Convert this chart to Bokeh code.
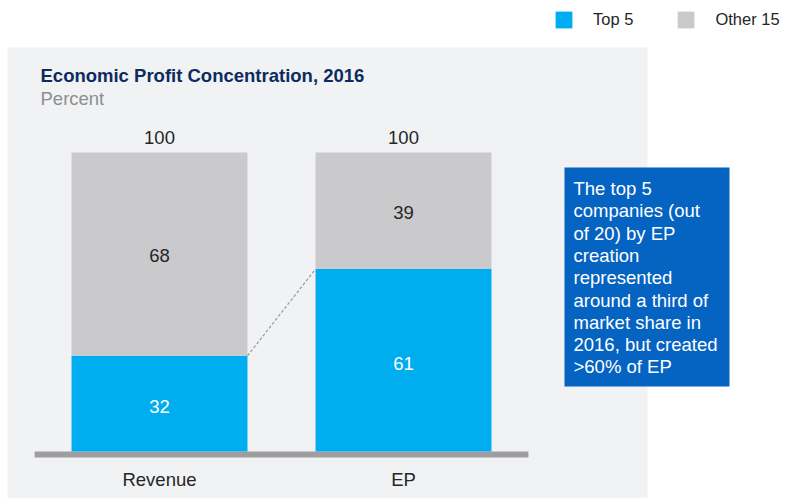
from bokeh.plotting import figure
from bokeh.models import Range1d, Label, BoxAnnotation, Legend, LegendItem, ColumnDataSource
from bokeh.embed import file_html
from bokeh.resources import INLINE
from bokeh.core.properties import value

# ---- data ----
categories = ["Revenue", "EP"]
top5 = [32, 61]
other15 = [68, 39]
series_names = ["Top 5", "Other 15"]
title_text = "Economic Profit Concentration, 2016"
subtitle_text = "Percent"
callout_lines = [
    "The top 5",
    "companies (out",
    "of 20) by EP",
    "creation",
    "represented",
    "around a third of",
    "market share in",
    "2016, but created",
    ">60% of EP",
]

# ---- styles ----
BLUE = "#00AEEF"
GREY = "#CACACC"
PANEL = "#F1F2F4"
CALLOUT = "#0563C1"
NAVY = "#0B2C5F"
DARK = "#262626"
FONT = "Liberation Sans"
FS = "18.5px"

W, H = 787, 498
X0_PX, X_STEP = 159, 244
Y0_PX, Y_SCALE = 451, 2.99
BAR_W = 0.721


def dx(px):
    return (px - X0_PX) / X_STEP


def dy(px):
    return (Y0_PX - px) / Y_SCALE


p = figure(width=W, height=H, output_backend="svg", toolbar_location=None,
           x_range=Range1d(dx(0), dx(W)), y_range=Range1d(dy(H), dy(0)),
           x_axis_type=None, y_axis_type=None, min_border=0,
           outline_line_color=None, background_fill_color="white",
           border_fill_color="white")
p.grid.visible = False

# panel background
p.add_layout(BoxAnnotation(left=dx(7), right=dx(647), top=dy(47), bottom=dy(498),
                           fill_color=PANEL, fill_alpha=1, line_color=None, level="underlay"))
# callout box
p.add_layout(BoxAnnotation(left=dx(564), right=dx(729), top=dy(167), bottom=dy(386),
                           fill_color=CALLOUT, fill_alpha=1, line_color=None, level="underlay"))

xs = list(range(len(categories)))
totals = [a + b for a, b in zip(top5, other15)]
src = ColumnDataSource(dict(
    x=xs, cat=categories, top5=top5, other=other15, total=totals,
    top5_mid=[v / 2 for v in top5],
    other_mid=[a + b / 2 for a, b in zip(top5, other15)],
    total_lbl_y=[t + 4.9 for t in totals],
    top5_lbl=[str(v) for v in top5],
    other_lbl=[str(v) for v in other15],
    total_lbl=[str(v) for v in totals],
    cat_y=[-9.2] * len(categories),
))

# baseline
p.quad(left=[xs[0] - 0.512], right=[xs[-1] + 0.512], bottom=[-2.0], top=[0],
       fill_color="#9E9EA0", line_color=None)

r1 = p.vbar(x="x", bottom=0, top="top5", width=BAR_W, fill_color=BLUE,
            line_color=None, source=src)
r2 = p.vbar(x="x", bottom="top5", top="total", width=BAR_W, fill_color=GREY,
            line_color=None, source=src)

# dashed connector
p.segment(x0=[xs[0] + BAR_W / 2], y0=[top5[0]], x1=[xs[1] - BAR_W / 2], y1=[top5[1]],
          line_color="#999999", line_width=1.2, line_dash="3 2")

common = dict(text_font=value(FONT), text_font_size=FS, text_align="center",
              text_baseline="middle", source=src)
p.text(x="x", y="top5_mid", text="top5_lbl", text_color="white", y_offset=3, **common)
p.text(x="x", y="other_mid", text="other_lbl", text_color=DARK, y_offset=1.5, **common)
p.text(x="x", y="total_lbl_y", text="total_lbl", text_color=DARK, **common)
p.text(x="x", y="cat_y", text="cat", text_color=DARK, **common)

# title & subtitle
p.add_layout(Label(x=dx(40), y=dy(75), text=title_text, text_font=FONT,
                   text_font_size=FS, text_font_style="bold", text_color=NAVY,
                   text_baseline="middle"))
p.add_layout(Label(x=dx(40), y=dy(98), text=subtitle_text, text_font=FONT,
                   text_font_size=FS, text_color="#8E8E8E", text_baseline="middle"))

# callout text
for i, line in enumerate(callout_lines):
    p.add_layout(Label(x=dx(573), y=dy(188 + i * 22.3), text=line, text_font=FONT,
                       text_font_size=FS, text_color="white", text_baseline="middle"))

legend = Legend(items=[LegendItem(label=series_names[0], renderers=[r1]),
                       LegendItem(label=series_names[1], renderers=[r2])],
                orientation="horizontal", location=(553, 468),
                glyph_width=21, glyph_height=21, label_height=21,
                label_standoff=19, spacing=42, padding=0, margin=0,
                border_line_color=None, background_fill_alpha=0,
                label_text_font=FONT, label_text_font_size="16.5px",
                label_text_color=DARK)
p.add_layout(legend)

open("out.html", "w").write(file_html(p, INLINE))
